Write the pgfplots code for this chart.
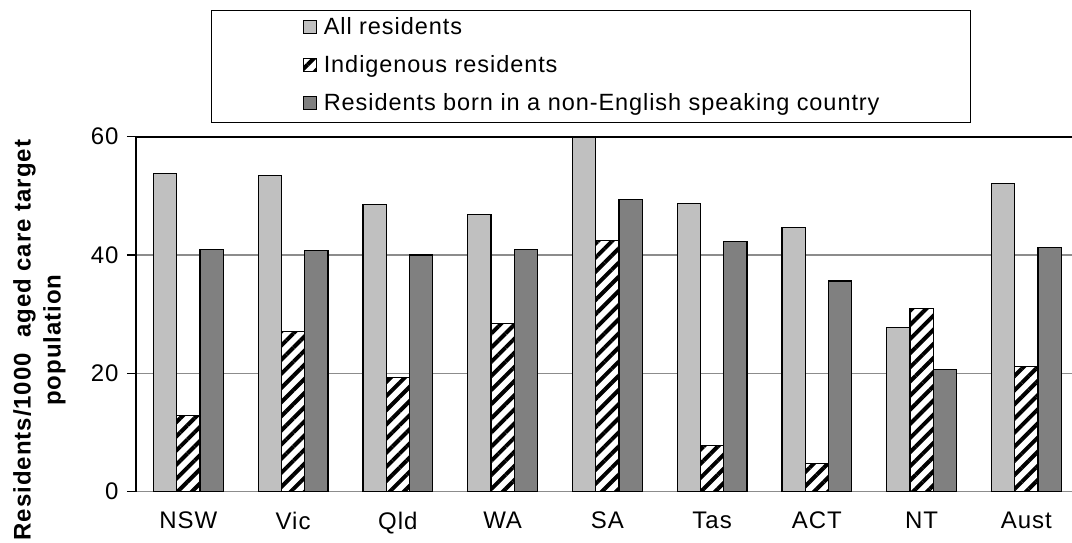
\documentclass[border=0pt]{standalone}
\usepackage{fontspec}
\setmainfont{Liberation Sans}[LetterSpace=4]
\usepackage{pgfplots}
\pgfplotsset{compat=1.18}
\usetikzlibrary{patterns.meta}
\definecolor{allres}{RGB}{192,192,192}
\definecolor{nesb}{RGB}{128,128,128}
\definecolor{gridc}{RGB}{140,140,140}
\begin{document}
\begin{tikzpicture}[x=1pt,y=1pt]
\path[use as bounding box] (0,0) rectangle (1072,542);
\begin{axis}[
  at={(136pt,50.3pt)}, anchor=south west,
  scale only axis, width=936pt, height=355pt,
  xmin=-0.5, xmax=8.4356, ymin=0, ymax=60,
  clip=false,
  ybar=0pt, bar width=23.3pt,
  axis line style={draw=none},
  xtick pos=bottom, ytick pos=left,
  tick align=outside,
  ytick={0,20,40,60},
  ymajorgrids, grid style={gridc, line width=1.2pt},
  ytick style={black, line width=1.2pt},
  major tick length=9pt,
  xtick={0,...,8}, xticklabels={NSW,Vic,Qld,WA,SA,Tas,ACT,NT,Aust},
  xtick style={draw=none},
  minor xtick={-0.5,0.5,...,7.5},
  minor tick length=8pt,
  minor x tick style={gridc, line width=1.2pt},
  tick label style={font=\fontsize{24}{28}\selectfont},
  /pgf/number format/assume math mode=true,
  yticklabel style={xshift=-5pt},
  xticklabel style={yshift=-8pt},
  every axis y label/.style={at={(rel axis cs:-0.1031,0.427)}, rotate=90, anchor=center},
  ylabel={Residents/1000 \ aged care target\\population},
  ylabel style={font=\bfseries\fontsize{24}{30}\selectfont, align=center},
  legend style={at={(rel axis cs:0.0801,1.3569)}, anchor=north west, draw=black, line width=1.2pt,
    font=\fontsize{23.5}{28}\selectfont, inner xsep=91pt, inner ysep=8pt, row sep=18pt, column sep=7pt,
    nodes={inner sep=0pt, text height=16pt, text depth=4pt}},
  legend cell align=left,
  legend image code/.code={\draw[#1, line width=1.2pt] (0pt,-5pt) rectangle (13pt,8pt);},
]
\addplot[fill=allres, draw=black, line width=1.2pt] coordinates {(0,53.8) (1,53.5) (2,48.5) (3,46.8) (4,59.8) (5,48.7) (6,44.7) (7,27.8) (8,52.1)};
\addplot[preaction={fill=white}, pattern={Lines[angle=45,distance=10pt,line width=4pt]}, draw=black, line width=1.2pt] coordinates {(0,12.9) (1,27.1) (2,19.3) (3,28.4) (4,42.4) (5,7.8) (6,4.7) (7,30.9) (8,21.1)};
\addplot[fill=nesb, draw=black, line width=1.2pt] coordinates {(0,41.0) (1,40.7) (2,40.0) (3,41.0) (4,49.4) (5,42.3) (6,35.6) (7,20.7) (8,41.3)};
\legend{All residents, Indigenous residents, Residents born in a non-English speaking country}
\draw[black, line width=1.3pt] (rel axis cs:0,0) -- (rel axis cs:0,1);
\draw[black, line width=2pt] (rel axis cs:0,1) -- (rel axis cs:1,1);
\end{axis}
\end{tikzpicture}
\end{document}
